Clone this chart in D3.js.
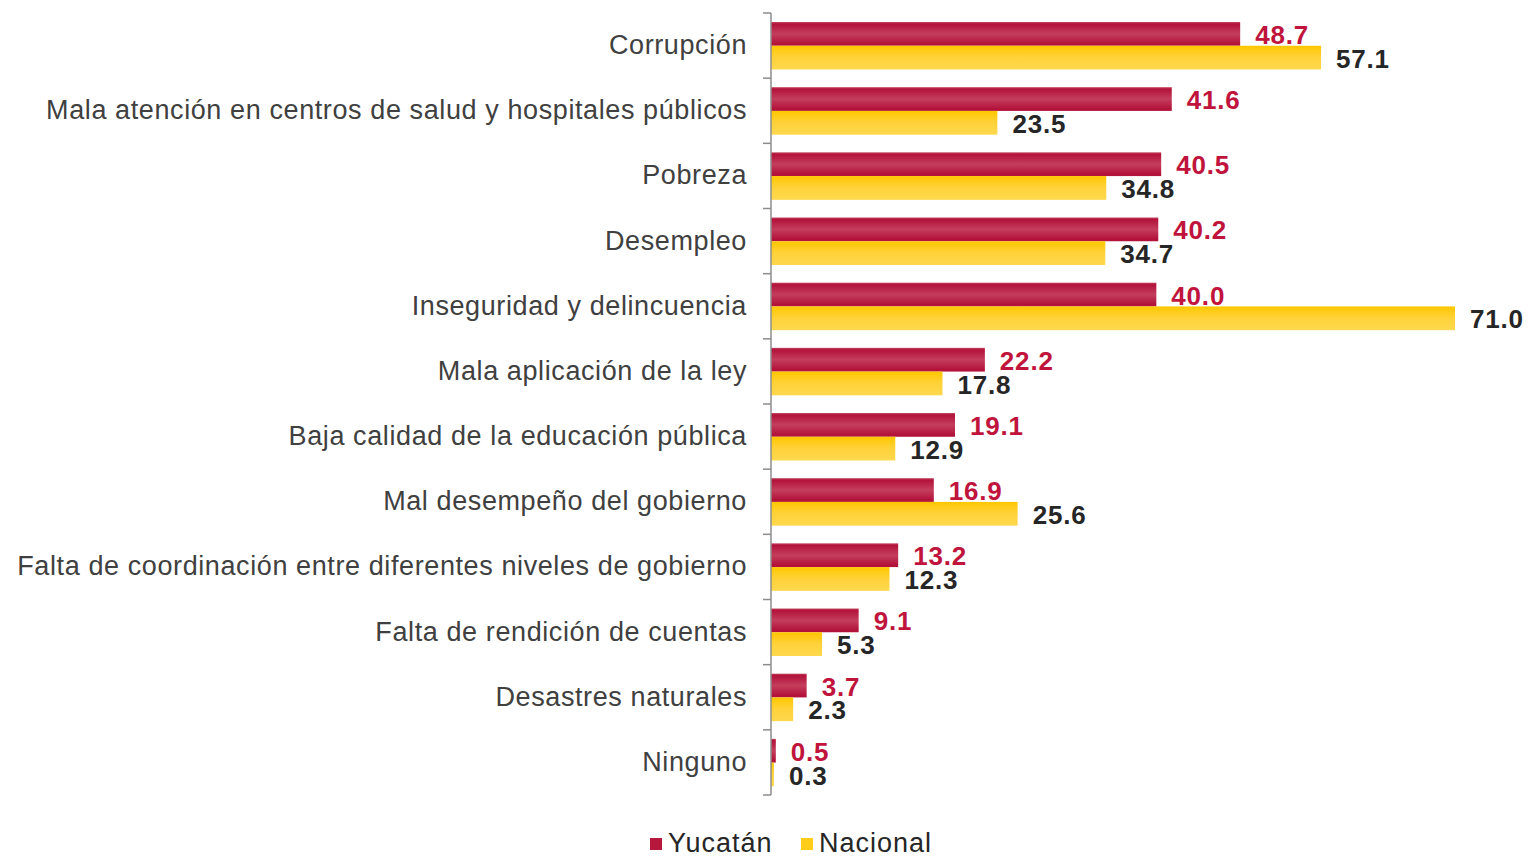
<!DOCTYPE html>
<html><head><meta charset="utf-8">
<script src="https://cdn.jsdelivr.net/npm/d3@7"></script>
<style>body{margin:0;background:#fff}svg{display:block}</style>
</head><body>
<svg id="c" width="1529" height="857"></svg>
<script>
const categories = ["Corrupción","Mala atención en centros de salud y hospitales públicos","Pobreza","Desempleo","Inseguridad y delincuencia","Mala aplicación de la ley","Baja calidad de la educación pública","Mal desempeño del gobierno","Falta de coordinación entre diferentes niveles de gobierno","Falta de rendición de cuentas","Desastres naturales","Ninguno"];
const seriesNames = ["Yucatán","Nacional"];
const yucatan = [48.7,41.6,40.5,40.2,40.0,22.2,19.1,16.9,13.2,9.1,3.7,0.5];
const nacional = [57.1,23.5,34.8,34.7,71.0,17.8,12.9,25.6,12.3,5.3,2.3,0.3];

const svg = d3.select("#c");
const font = "'Liberation Sans', Arial, sans-serif";
const defs = svg.append("defs");
function grad(id, stops){
  const g = defs.append("linearGradient").attr("id",id).attr("x1",0).attr("x2",0).attr("y1",0).attr("y2",1);
  stops.forEach(s=>g.append("stop").attr("offset",s[0]).attr("stop-color",s[1]));
}
grad("gR",[["0%","#c44a63"],["8%","#b3123a"],["50%","#c43e5c"],["92%","#b3123a"],["100%","#b0143a"]]);
grad("gY",[["0%","#ffc700"],["50%","#ffd23a"],["100%","#ffd84e"]]);
const fills = ["url(#gR)","url(#gY)"];
const labelColors = ["#c0143c","#262626"];

const x = d3.scaleLinear().domain([0,71.0]).range([771,1455]);
const y0 = d3.scaleBand().domain(categories).range([13,795]).padding(0);
const y1 = d3.scaleBand().domain(seriesNames).range([9,56.5]).padding(0);

const data = categories.map((c,i)=>({cat:c, vals:[yucatan[i], nacional[i]]}));

const g = svg.append("g");
data.forEach(d=>{
  d.vals.forEach((v,j)=>{
    const s = seriesNames[j];
    const yy = y0(d.cat)+y1(s);
    g.append("rect").attr("x",x(0)).attr("y",yy).attr("width",Math.max(x(v)-x(0),2.5)).attr("height",y1.bandwidth()).attr("fill",fills[j]);
    g.append("text").attr("x",x(v)+15).attr("y",yy+y1.bandwidth()/2+1).attr("dy","0.35em")
      .attr("font-family",font).attr("font-weight","bold").attr("font-size",26).attr("letter-spacing",0.8)
      .attr("fill",labelColors[j]).text(v.toFixed(1));
  });
});

// axis
const ax = svg.append("g");
ax.append("line").attr("x1",771).attr("x2",771).attr("y1",13).attr("y2",795).attr("stroke","#8c8c8c").attr("stroke-width",1.5);
const bounds = categories.map(c=>y0(c)).concat([795]);
bounds.forEach(b=>ax.append("line").attr("x1",763).attr("x2",771).attr("y1",b).attr("y2",b).attr("stroke","#8c8c8c").attr("stroke-width",1.5));
categories.forEach(c=>{
  ax.append("text").attr("x",747).attr("y",y0(c)+y0.bandwidth()/2-1).attr("dy","0.35em")
    .attr("text-anchor","end").attr("font-family",font).attr("font-size",27).attr("letter-spacing",0.6).attr("fill","#404040").text(c);
});

// legend
const lg = svg.append("g");
const legX = [650,801];
seriesNames.forEach((s,j)=>{
  lg.append("rect").attr("x",legX[j]).attr("y",838).attr("width",12).attr("height",12).attr("fill",j?"#ffcc1a":"#b8173e");
  lg.append("text").attr("x",legX[j]+18).attr("y",843).attr("dy","0.35em").attr("font-family",font).attr("font-size",27).attr("letter-spacing",1).attr("fill","#262626").text(s);
});
</script>
</body></html>
